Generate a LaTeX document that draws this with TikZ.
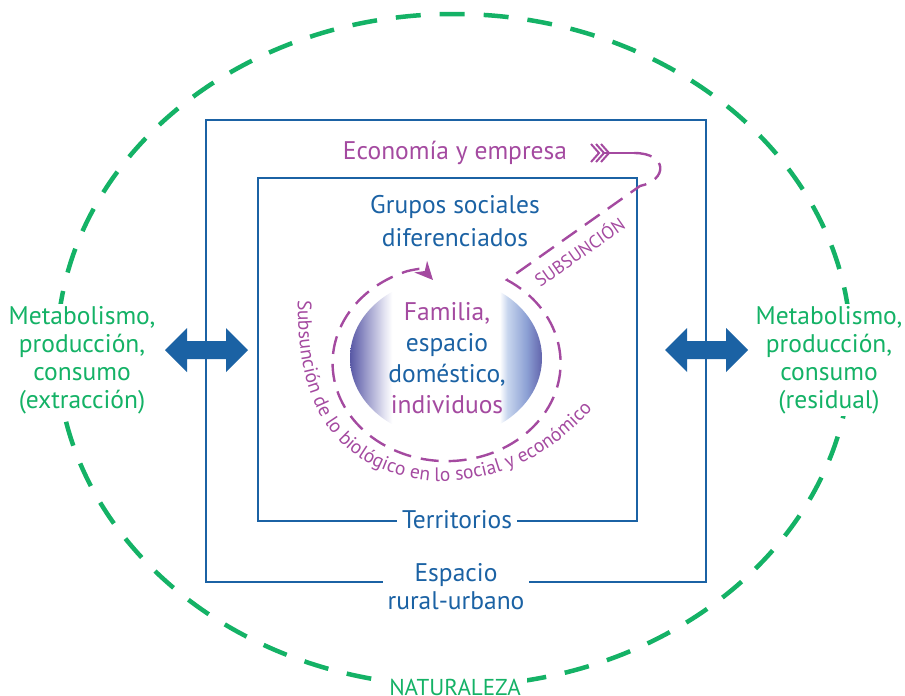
\documentclass[tikz,border=0pt]{standalone}
\usepackage{fontspec}
\setmainfont{PT Sans}
\usetikzlibrary{decorations.text, arrows.meta}
\definecolor{tblue}{RGB}{27,98,164}
\definecolor{tgreen}{RGB}{20,178,102}
\definecolor{tpurp}{RGB}{164,74,160}
\definecolor{shA}{RGB}{88,88,165}
\definecolor{shAm}{RGB}{150,150,200}
\definecolor{shB}{RGB}{228,228,242}
\definecolor{shC}{RGB}{200,214,238}
\definecolor{shCm}{RGB}{140,160,212}
\definecolor{shD}{RGB}{98,100,172}
\pgfdeclarehorizontalshading{famshade}{100bp}{color(0bp)=(shA); color(25bp)=(shA); color(29bp)=(shAm); color(34bp)=(shB); color(36bp)=(white); color(64bp)=(white); color(66bp)=(shC); color(71bp)=(shCm); color(75bp)=(shD); color(100bp)=(shD)}
\tikzset{
  bigtxt/.style={font=\fontsize{25.5}{33}\selectfont, align=center, inner sep=0pt},
  sidetxt/.style={font=\fontsize{25.5}{28}\selectfont, align=center, text=tgreen, fill=white, inner sep=2pt},
  rectline/.style={draw=tblue, line width=2.8},
  purpdash/.style={draw=tpurp, line width=2.4, dash pattern=on 18pt off 10pt},
  dblarrow/.style={fill=tblue},
}
\begin{document}
\begin{tikzpicture}[x=1pt,y=-1pt]
\useasboundingbox (0,0) rectangle (905,696);
% nature ellipse
\draw[tgreen, line width=4.5, dash pattern=on 25pt off 19pt] (454,350) ellipse [x radius=397, y radius=336];
% double arrows
\foreach \dx in {0,500}{
  \fill[dblarrow] (165+\dx,350) -- (187+\dx,328) -- (187+\dx,341) -- (226+\dx,341) -- (226+\dx,328) -- (248+\dx,350) -- (226+\dx,372) -- (226+\dx,359) -- (187+\dx,359) -- (187+\dx,372) -- cycle;
}
% rectangles
\draw[rectline] (206,120) rectangle (706,582);
\draw[rectline] (258,178) rectangle (637,521);
% family shaded circle
\shade[shading=famshade] (446,358) ellipse [x radius=96, y radius=80];
% feathers and shaft
\foreach \fx in {591,596,601}{
  \draw[tpurp, line width=2] (\fx,144) -- (\fx+8,153) -- (\fx,162);
}
\coordinate (shaftA) at (603,153);
\coordinate (shaftB) at (634,153);
\coordinate (corner) at (640,186);
\coordinate (spin) at (507,280);
\coordinate (tipend) at (433,280);
\draw[tpurp, line width=2.2] (shaftA) -- (shaftB);
\draw[purpdash, -{Stealth[length=18pt,width=17pt]}] (shaftB) .. controls (668,153) and (668,180) .. (corner) -- (spin) arc[start angle=-58, end angle=250, x radius=114, y radius=98] .. controls (422,268) .. (tipend);
% texts
\node[bigtxt, text=tpurp] (econ) at (455,153) {Economía y empresa};
\node[bigtxt, text=tblue] (grupos) at (455,221) {Grupos sociales\\diferenciados};
\node[font=\fontsize{25.5}{31}\selectfont, align=center, text=tblue, inner sep=0pt] (fam) at (447,358) {\textcolor{tpurp}{Familia,}\\espacio\\doméstico,\\\textcolor{tpurp}{individuos}};
\node[font=\fontsize{25.5}{28}\selectfont, text=tblue, fill=white, inner xsep=5pt, inner ysep=2pt] (terr) at (457,520) {Territorios};
\node[font=\fontsize{25.5}{28}\selectfont, align=center, text=tblue, fill=white, inner xsep=5pt, inner ysep=2pt] (rural) at (456,587) {Espacio\\rural-urbano};
\node[font=\fontsize{23}{23}\selectfont, text=tgreen, fill=white, inner xsep=6pt, inner ysep=2pt] (nat) at (455,687) {NATURALEZA};
\node[sidetxt] (left) at (82,360) {Metabolismo,\\producción,\\consumo\\(extracción)};
\node[sidetxt] (right) at (829,360) {Metabolismo,\\producción,\\consumo\\(residual)};
\node[rotate=35, text=tpurp, font=\fontsize{18}{18}\selectfont, inner sep=0pt] (subs) at (579,251) {SUBSUNCIÓN};
\path[decorate, decoration={text along path, text align=left, text={|\color{tpurp}\fontsize{19.5}{19.5}\selectfont|Subsunción de lo biológico en lo social y económico}}] (298,300) .. controls (296,400) and (330,470) .. (430,481) .. controls (500,483) and (560,455) .. (612,385);
\end{tikzpicture}
\end{document}
